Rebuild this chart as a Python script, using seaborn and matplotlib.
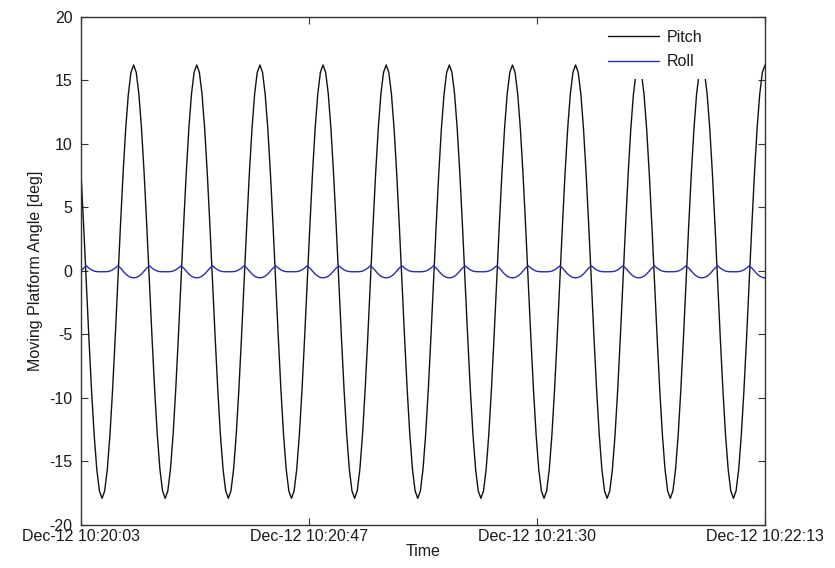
import matplotlib
matplotlib.use("Agg")
import matplotlib.pyplot as plt
import matplotlib.dates as mdates
from matplotlib.lines import Line2D
from matplotlib.ticker import FuncFormatter
import numpy as np
import pandas as pd
import seaborn as sns

# Platform log, sampled every 0.5 s starting at 10:20:03.4
start_time = "2012-12-12 10:20:03.4"
sample_step = "500ms"
series_names = ["Pitch", "Roll"]

pitch = [
    7.68, 3.56, -0.85, -5.26, -9.38, -12.91, -15.62, -17.32, -17.90, -17.32, -15.62, -12.91, -9.38, -5.26, -0.85, 3.56, 7.68, 11.21, 13.92, 15.62, 16.20, 15.62, 13.92, 11.21,
    7.68, 3.56, -0.85, -5.26, -9.38, -12.91, -15.62, -17.32, -17.90, -17.32, -15.62, -12.91, -9.38, -5.26, -0.85, 3.56, 7.68, 11.21, 13.92, 15.62, 16.20, 15.62, 13.92, 11.21,
    7.68, 3.56, -0.85, -5.26, -9.38, -12.91, -15.62, -17.32, -17.90, -17.32, -15.62, -12.91, -9.38, -5.26, -0.85, 3.56, 7.68, 11.21, 13.92, 15.62, 16.20, 15.62, 13.92, 11.21,
    7.68, 3.56, -0.85, -5.26, -9.38, -12.91, -15.62, -17.32, -17.90, -17.32, -15.62, -12.91, -9.38, -5.26, -0.85, 3.56, 7.68, 11.21, 13.92, 15.62, 16.20, 15.62, 13.92, 11.21,
    7.68, 3.56, -0.85, -5.26, -9.38, -12.91, -15.62, -17.32, -17.90, -17.32, -15.62, -12.91, -9.38, -5.26, -0.85, 3.56, 7.68, 11.21, 13.92, 15.62, 16.20, 15.62, 13.92, 11.21,
    7.68, 3.56, -0.85, -5.26, -9.38, -12.91, -15.62, -17.32, -17.90, -17.32, -15.62, -12.91, -9.38, -5.26, -0.85, 3.56, 7.68, 11.21, 13.92, 15.62, 16.20, 15.62, 13.92, 11.21,
    7.68, 3.56, -0.85, -5.26, -9.38, -12.91, -15.62, -17.32, -17.90, -17.32, -15.62, -12.91, -9.38, -5.26, -0.85, 3.56, 7.68, 11.21, 13.92, 15.62, 16.20, 15.62, 13.92, 11.21,
    7.68, 3.56, -0.85, -5.26, -9.38, -12.91, -15.62, -17.32, -17.90, -17.32, -15.62, -12.91, -9.38, -5.26, -0.85, 3.56, 7.68, 11.21, 13.92, 15.62, 16.20, 15.62, 13.92, 11.21,
    7.68, 3.56, -0.85, -5.26, -9.38, -12.91, -15.62, -17.32, -17.90, -17.32, -15.62, -12.91, -9.38, -5.26, -0.85, 3.56, 7.68, 11.21, 13.92, 15.62, 16.20, 15.62, 13.92, 11.21,
    7.68, 3.56, -0.85, -5.26, -9.38, -12.91, -15.62, -17.32, -17.90, -17.32, -15.62, -12.91, -9.38, -5.26, -0.85, 3.56, 7.68, 11.21, 13.92, 15.62, 16.20, 15.62, 13.92, 11.21,
    7.68, 3.56, -0.85, -5.26, -9.38, -12.91, -15.62, -17.32, -17.90, -17.32, -15.62, -12.91, -9.38, -5.26, -0.85, 3.56, 7.68, 11.21, 13.92, 15.62, 16.20,
]

roll = [
    -0.02, 0.22, 0.40, 0.22, 0.08, -0.02, -0.06, -0.07, -0.07, -0.07, -0.06, -0.02, 0.08, 0.22, 0.40, 0.22, -0.02, -0.25, -0.42, -0.52, -0.55, -0.52, -0.42, -0.25,
    -0.02, 0.22, 0.40, 0.22, 0.08, -0.02, -0.06, -0.07, -0.07, -0.07, -0.06, -0.02, 0.08, 0.22, 0.40, 0.22, -0.02, -0.25, -0.42, -0.52, -0.55, -0.52, -0.42, -0.25,
    -0.02, 0.22, 0.40, 0.22, 0.08, -0.02, -0.06, -0.07, -0.07, -0.07, -0.06, -0.02, 0.08, 0.22, 0.40, 0.22, -0.02, -0.25, -0.42, -0.52, -0.55, -0.52, -0.42, -0.25,
    -0.02, 0.22, 0.40, 0.22, 0.08, -0.02, -0.06, -0.07, -0.07, -0.07, -0.06, -0.02, 0.08, 0.22, 0.40, 0.22, -0.02, -0.25, -0.42, -0.52, -0.55, -0.52, -0.42, -0.25,
    -0.02, 0.22, 0.40, 0.22, 0.08, -0.02, -0.06, -0.07, -0.07, -0.07, -0.06, -0.02, 0.08, 0.22, 0.40, 0.22, -0.02, -0.25, -0.42, -0.52, -0.55, -0.52, -0.42, -0.25,
    -0.02, 0.22, 0.40, 0.22, 0.08, -0.02, -0.06, -0.07, -0.07, -0.07, -0.06, -0.02, 0.08, 0.22, 0.40, 0.22, -0.02, -0.25, -0.42, -0.52, -0.55, -0.52, -0.42, -0.25,
    -0.02, 0.22, 0.40, 0.22, 0.08, -0.02, -0.06, -0.07, -0.07, -0.07, -0.06, -0.02, 0.08, 0.22, 0.40, 0.22, -0.02, -0.25, -0.42, -0.52, -0.55, -0.52, -0.42, -0.25,
    -0.02, 0.22, 0.40, 0.22, 0.08, -0.02, -0.06, -0.07, -0.07, -0.07, -0.06, -0.02, 0.08, 0.22, 0.40, 0.22, -0.02, -0.25, -0.42, -0.52, -0.55, -0.52, -0.42, -0.25,
    -0.02, 0.22, 0.40, 0.22, 0.08, -0.02, -0.06, -0.07, -0.07, -0.07, -0.06, -0.02, 0.08, 0.22, 0.40, 0.22, -0.02, -0.25, -0.42, -0.52, -0.55, -0.52, -0.42, -0.25,
    -0.02, 0.22, 0.40, 0.22, 0.08, -0.02, -0.06, -0.07, -0.07, -0.07, -0.06, -0.02, 0.08, 0.22, 0.40, 0.22, -0.02, -0.25, -0.42, -0.52, -0.55, -0.52, -0.42, -0.25,
    -0.02, 0.22, 0.40, 0.22, 0.08, -0.02, -0.06, -0.07, -0.07, -0.07, -0.06, -0.02, 0.08, 0.22, 0.40, 0.22, -0.02, -0.25, -0.42, -0.52, -0.55,
]

y_ticks = [-20, -15, -10, -5, 0, 5, 10, 15, 20]

times = pd.date_range(start=start_time, periods=len(pitch), freq=sample_step)
df = pd.concat([
    pd.DataFrame({"time": times, "angle": pitch, "series": series_names[0]}),
    pd.DataFrame({"time": times, "angle": roll, "series": series_names[1]}),
], ignore_index=True)

sns.set_style("ticks")
plt.rcParams["font.family"] = ["Liberation Sans", "DejaVu Sans"]
plt.rcParams["axes.unicode_minus"] = False

text_color = "#1a1a1a"
axis_color = "#333333"
colors = {"Pitch": "#111111", "Roll": "#2c2ca8"}
fs = 11.5

fig = plt.figure(figsize=(8.35, 5.68), dpi=100)
ax = fig.add_axes([81 / 835, 43 / 568, 684 / 835, 508.3 / 568])

sns.lineplot(data=df, x="time", y="angle", hue="series", palette=colors,
             estimator=None, sort=False, linewidth=1.0, legend=False, ax=ax)

t0, t1 = times[0], times[-1]
ax.set_xlim(t0, t1)
ax.set_ylim(-20, 20)
ax.set_yticks(y_ticks)
span = (t1 - t0) / 3
ax.set_xticks([t0 + span * k for k in range(4)])


def fmt_time(v, pos):
    ts = pd.Timestamp(mdates.num2date(v)).tz_localize(None).round("s")
    return ts.strftime("%b-%d %H:%M:%S")


ax.xaxis.set_major_formatter(FuncFormatter(fmt_time))

for s in ax.spines.values():
    s.set_visible(True)
    s.set_color(axis_color)
    s.set_linewidth(1.0)

ax.tick_params(direction="in", length=5, width=0.8, top=True, right=True,
               color=axis_color, labelcolor=text_color, labelsize=fs)
ax.tick_params(axis="x", pad=3)
ax.tick_params(axis="y", pad=6)

ax.set_xlabel("Time", fontsize=fs, color=text_color, labelpad=0)
ax.set_ylabel("Moving Platform Angle [deg]", fontsize=fs, color=text_color, labelpad=5)

handles = [Line2D([], [], color=colors[n], lw=1.0) for n in series_names]
ax.legend(handles, series_names, loc="upper right",
          bbox_to_anchor=(0.9225, 0.9935), borderaxespad=0,
          frameon=True, facecolor="white", edgecolor="none", framealpha=1,
          fancybox=False, handlelength=3.2, handletextpad=0.5,
          labelspacing=0.6, borderpad=0.6, fontsize=fs,
          labelcolor=text_color)

fig.savefig("out.png", dpi=100)
